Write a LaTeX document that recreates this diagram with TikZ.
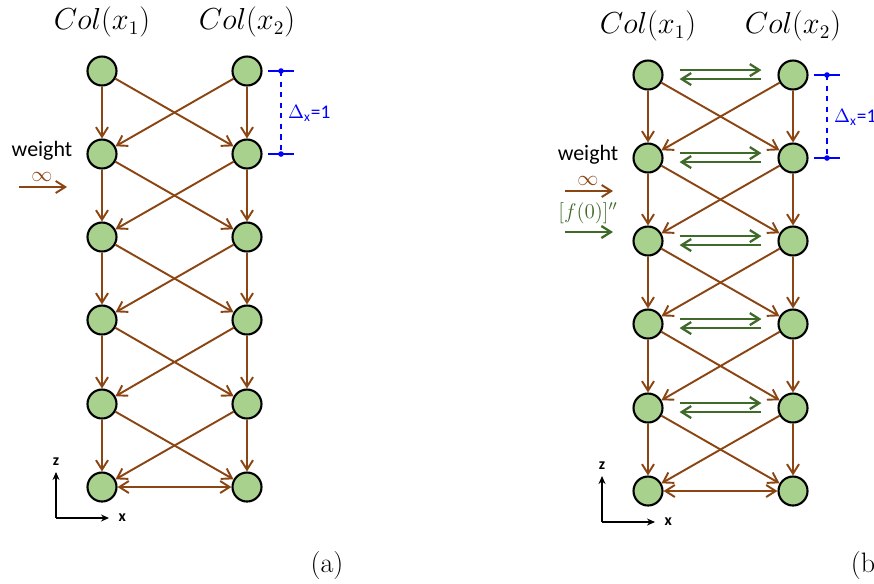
\documentclass[tikz,border=0pt]{standalone}
\usepackage{fontspec}
\setsansfont{Carlito}
\usetikzlibrary{arrows.meta, positioning, calc}
\definecolor{cbrown}{HTML}{8B4513}
\definecolor{cleaf}{HTML}{A9D18E}
\definecolor{cgreen}{HTML}{3F6A2A}
\definecolor{cblue}{HTML}{0000FF}
\tikzset{
  >={Straight Barb[length=1.9mm, width=2.4mm]},
  cell/.style={circle, draw=black, fill=cleaf, line width=1.2pt, minimum size=0.58cm, inner sep=0pt},
  flow/.style={->, draw=cbrown, line width=1.1pt},
  swap/.style={->, draw=cgreen, line width=1.3pt, shorten <=0.32cm, shorten >=0.32cm},
  gauge/.style={draw=cblue, line width=1.1pt},
  axis/.style={-{Stealth[length=1.6mm, width=1.4mm]}, line width=0.6pt},
  colname/.style={font=\fontsize{16}{19}\selectfont},
  lbl/.style={font=\sffamily\fontsize{12.5}{15}\selectfont},
  axlbl/.style={font=\sffamily\bfseries\fontsize{9}{11}\selectfont},
}
\begin{document}
\begin{tikzpicture}[x=0.02cm, y=-0.02cm]
  \useasboundingbox (0,0) rectangle (874,583);
  % both panels share the same lattice
  \foreach \p/\dx/\dy in {a/0/0, b/546/4} {
    \begin{scope}[shift={(\dx,\dy)}]
      \node[colname] (\p c1) at (102,22) {$Col(x_1)$};
      \node[colname] (\p c2) at (247,22) {$Col(x_2)$};
      \foreach \i/\y in {1/71, 2/154, 3/237, 4/320, 5/404, 6/487} {
        \node[cell] (\p L\i) at (102,\y) {};
        \node[cell] (\p R\i) at (247,\y) {};
      }
      \foreach \i in {1,...,5} {
        \pgfmathtruncatemacro\j{\i+1}
        \draw[flow] (\p L\i) -- (\p L\j);
        \draw[flow] (\p R\i) -- (\p R\j);
        \draw[flow] (\p L\i) -- (\p R\j);
        \draw[flow] (\p R\i) -- (\p L\j);
      }
      \draw[flow, <->] (\p L6) -- (\p R6);
      % grid spacing
      \coordinate (\p g1) at (281,71);
      \coordinate (\p g2) at (281,154);
      \draw[gauge] ([xshift=-0.26cm]\p g1) -- ([xshift=0.26cm]\p g1);
      \draw[gauge] ([xshift=-0.26cm]\p g2) -- ([xshift=0.26cm]\p g2);
      \draw[gauge, dashed] (\p g1) -- (\p g2);
      \fill[cblue] (\p g1) circle (1.6pt) (\p g2) circle (1.6pt);
      \node[lbl, font=\sffamily\fontsize{11}{13}\selectfont, text=cblue, anchor=west, inner sep=1pt] (\p dx) at (286,113) {$\Delta$\textsubscript{x}=1};
      % weight input
      \node[lbl, inner sep=1pt] (\p w) at (42,151) {weight};
      \node[text=cbrown, font=\fontsize{13}{15}\selectfont, inner sep=0pt] (\p inf) at (42,177) {$\infty$};
      \coordinate (\p w0) at (19,187);
      \coordinate (\p w1) at (67,187);
      \draw[flow] (\p w0) -- (\p w1);
      % axes
      \coordinate (\p o) at (56,518);
      \coordinate (\p zt) at (56,472);
      \coordinate (\p xt) at (109,518);
      \draw[axis] (\p o) -- (\p zt);
      \draw[axis] (\p o) -- (\p xt);
      \node[axlbl, above=0pt of \p zt] {z};
      \node[axlbl, right=2pt of \p xt] {x};
    \end{scope}
  }
  % exchange between the columns
  \foreach \i in {1,...,5} {
    \draw[swap] ([yshift=2.8pt]bL\i.east) -- ([yshift=2.8pt]bR\i.west);
    \draw[swap] ([yshift=-2.3pt]bR\i.west) -- ([yshift=-2.3pt]bL\i.east);
  }
  \node[text=cgreen, font=\fontsize{12}{14}\selectfont, inner sep=1pt] (f0) at (588,213) {$[f(0)]''$};
  \coordinate (g0) at (565,232);
  \coordinate (g1) at (613,232);
  \draw[flow, draw=cgreen, line width=1.3pt] (g0) -- (g1);
  \node[font=\fontsize{16}{19}\selectfont] (pa) at (327,565) {(a)};
  \node[font=\fontsize{16}{19}\selectfont] (pb) at (868,565) {(b)};
\end{tikzpicture}
\end{document}
